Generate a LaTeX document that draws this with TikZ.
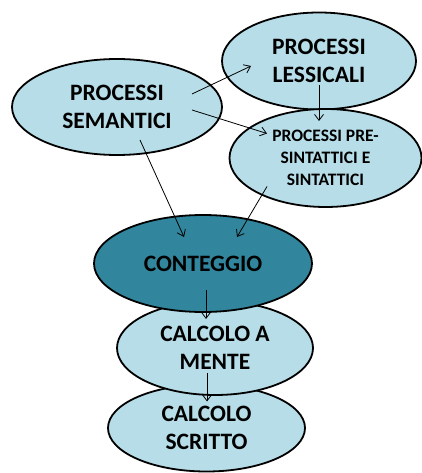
\documentclass[tikz,border=0pt]{standalone}
\usepackage{fontspec}
\setmainfont{Carlito}
\usetikzlibrary{shapes.geometric,arrows.meta}
\definecolor{lightaqua}{HTML}{B7DEE8}
\definecolor{darkaqua}{HTML}{31859C}
\tikzset{
  blob/.style={ellipse, draw, line width=1.8pt, fill=lightaqua, inner sep=0pt,
    align=center, font=\bfseries\fontsize{23.5}{28}\selectfont},
  arr/.style={line width=0.8pt, -{Straight Barb[length=6pt,width=9pt]}}
}
\begin{document}
\begin{tikzpicture}[x=1pt,y=-1pt]
\useasboundingbox (0,0) rectangle (422,473);
\node[blob, minimum width=197pt, minimum height=87pt] (scr) at (206.5,428) {CALCOLO\\SCRITTO};
\node[blob, minimum width=196pt, minimum height=94pt] (men) at (215,348) {CALCOLO A\\MENTE};
\node[blob, fill=darkaqua, minimum width=218pt, minimum height=97pt] (con) at (203,263.5) {CONTEGGIO};
\node[blob, minimum width=210pt, minimum height=96pt] (sem) at (117,107) {PROCESSI\\SEMANTICI};
\node[blob, minimum width=194pt, minimum height=97pt] (lex) at (319,61) {PROCESSI\\LESSICALI};
\node[blob, minimum width=192pt, minimum height=98pt,
  font=\bfseries\fontsize{17.5}{22}\selectfont] (pre) at (325.5,158) {PROCESSI PRE-\\SINTATTICI E\\SINTATTICI};
\draw[arr] ([shift={(75,-13)}]sem.center) -- ([shift={(-68,5)}]lex.center);
\draw[arr] ([shift={(75,3)}]sem.center) -- ([shift={(-58.5,-24.5)}]pre.center);
\draw[arr] ([shift={(23,33)}]sem.center) -- ([shift={(-19,-26.5)}]con.center);
\draw[arr] ([shift={(-58.5,28.5)}]pre.center) -- ([shift={(34,-26.5)}]con.center);
\draw[arr] ([shift={(0,24)}]lex.center) -- ([shift={(-6.5,-37)}]pre.center);
\draw[arr] ([shift={(3,26.5)}]con.center) -- ([shift={(-9,-29)}]men.center);
\draw[arr] ([shift={(-8,25)}]men.center) -- ([shift={(0.5,-26.5)}]scr.center);
\end{tikzpicture}
\end{document}
